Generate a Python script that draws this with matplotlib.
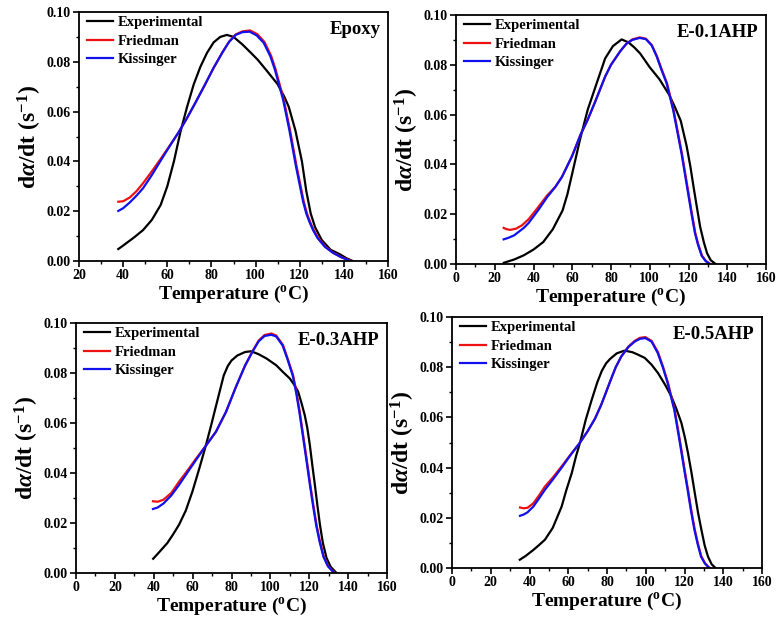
import matplotlib
matplotlib.use('Agg')
import matplotlib.pyplot as plt
from matplotlib.ticker import MultipleLocator, FormatStrFormatter

plt.rcParams['font.family'] = ['Liberation Serif', 'DejaVu Serif']
plt.rcParams['font.weight'] = 'bold'
plt.rcParams['mathtext.fontset'] = 'custom'
plt.rcParams['mathtext.rm'] = 'Liberation Serif:bold'
plt.rcParams['mathtext.it'] = 'Liberation Serif:italic:bold'
plt.rcParams['mathtext.bf'] = 'Liberation Serif:bold'

# ---------------- data ----------------
series_names = ['Experimental', 'Friedman', 'Kissinger']
panel_labels = ['Epoxy', 'E-0.1AHP', 'E-0.3AHP', 'E-0.5AHP']

# Epoxy
ep_exp_T = [37.8, 40, 45, 49, 53, 57, 60, 63, 66, 69, 72, 75, 78, 81, 84, 87, 90, 94, 98, 101, 105, 110, 113, 115, 118, 121, 123, 125, 127, 130, 134, 138, 141, 144]
ep_exp = [0.0048, 0.0062, 0.0095, 0.0124, 0.0165, 0.0225, 0.0300, 0.0400, 0.0520, 0.0620, 0.0710, 0.0780, 0.0836, 0.0878, 0.0900, 0.0908, 0.0900, 0.0870, 0.0835, 0.0808, 0.0765, 0.0710, 0.0660, 0.0620, 0.0526, 0.0400, 0.0280, 0.0190, 0.0135, 0.0084, 0.0045, 0.0028, 0.0012, 0.0]
ep_fri_T = [37.8, 40, 43, 46, 49, 53, 57, 61, 65, 69, 73, 77, 81, 85, 88, 91, 94, 97.5, 100.8, 104, 107, 109, 111, 112.8, 115.6, 118.6, 120.2, 121.8, 123.3, 124.8, 126.3, 128.3, 131.7, 135.2, 139, 143.5]
ep_fri = [0.0238, 0.0240, 0.0255, 0.0280, 0.0312, 0.0360, 0.0410, 0.0462, 0.0515, 0.0575, 0.0640, 0.0707, 0.0776, 0.0838, 0.0881, 0.0910, 0.0922, 0.0926, 0.0911, 0.0880, 0.0825, 0.0772, 0.0706, 0.0647, 0.0526, 0.0380, 0.0310, 0.0240, 0.0190, 0.0155, 0.0125, 0.0093, 0.0057, 0.0033, 0.0015, 0.0]
ep_kis_T = [37.8, 40, 43, 46, 49, 53, 57, 61, 65, 69, 73, 77, 81, 85, 88, 91, 94, 97.3, 100.5, 103.7, 106.7, 108.7, 110.7, 112.5, 115.3, 118.3, 119.9, 121.5, 123.0, 124.5, 126.0, 128.0, 131.4, 135.0, 138.8, 143.0]
ep_kis = [0.0201, 0.0212, 0.0235, 0.0262, 0.0292, 0.0345, 0.0403, 0.0460, 0.0515, 0.0575, 0.0640, 0.0707, 0.0776, 0.0838, 0.0880, 0.0908, 0.0919, 0.0921, 0.0906, 0.0876, 0.0822, 0.0770, 0.0705, 0.0647, 0.0526, 0.0380, 0.0310, 0.0240, 0.0190, 0.0155, 0.0125, 0.0093, 0.0057, 0.0033, 0.0015, 0.0]

# E-0.1AHP
a1_exp_T = [24.7, 30, 35, 40, 45, 50, 55, 57.5, 60, 64, 68, 72, 77, 81, 85.5, 89, 92, 95, 100, 105, 110, 113, 116, 119, 121, 122.6, 124.5, 126, 128, 129.6, 131.5, 134]
a1_exp = [0.0005, 0.0018, 0.0035, 0.0058, 0.0088, 0.0140, 0.0215, 0.0280, 0.0364, 0.0500, 0.0620, 0.0712, 0.0826, 0.0875, 0.0902, 0.0890, 0.0870, 0.0846, 0.0790, 0.0742, 0.0680, 0.0630, 0.0575, 0.0475, 0.0390, 0.0310, 0.0220, 0.0150, 0.0085, 0.0043, 0.0015, 0.0]
a1_fri_T = [24.6, 26, 28, 31, 34, 37.5, 42.6, 47, 51.3, 54.7, 60, 64.2, 68, 72, 77, 80, 84.8, 88, 91, 94.8, 98, 101, 103.7, 106, 108.9, 112.3, 116.6, 120, 121.8, 123.5, 125, 127, 129, 131.2]
a1_fri = [0.0145, 0.0140, 0.0137, 0.0142, 0.0155, 0.0180, 0.0230, 0.0275, 0.0310, 0.0350, 0.0435, 0.0518, 0.0580, 0.0655, 0.0753, 0.0800, 0.0855, 0.0885, 0.0902, 0.0910, 0.0905, 0.0880, 0.0835, 0.0785, 0.0726, 0.0618, 0.0444, 0.0284, 0.0200, 0.0125, 0.0080, 0.0033, 0.0012, 0.0]
a1_kis_T = [24.6, 27, 30, 35, 37.5, 42.6, 47, 51.3, 54.7, 60, 64.2, 68, 72, 77, 80, 84.8, 88, 91, 94.8, 98, 101, 103.6, 105.8, 108.7, 112.1, 116.4, 119.8, 121.6, 123.3, 124.8, 126.8, 128.8, 131.0]
a1_kis = [0.0099, 0.0105, 0.0115, 0.0145, 0.0165, 0.0218, 0.0268, 0.0310, 0.0350, 0.0435, 0.0518, 0.0580, 0.0655, 0.0753, 0.0800, 0.0855, 0.0885, 0.0900, 0.0908, 0.0903, 0.0878, 0.0833, 0.0785, 0.0726, 0.0618, 0.0444, 0.0284, 0.0200, 0.0125, 0.0080, 0.0033, 0.0012, 0.0]

# E-0.3AHP
a3_exp_T = [39.7, 43, 47, 50, 53, 56.5, 59.9, 63.5, 66.8, 69.5, 72.9, 76, 78.1, 80, 83, 87, 90.1, 94, 98, 103, 107, 110, 112.5, 114.3, 116, 117.7, 119, 120.3, 121.6, 122.9, 124.2, 125.5, 127, 128.9, 131, 134]
a3_exp = [0.0057, 0.0085, 0.0120, 0.0155, 0.0193, 0.0250, 0.0326, 0.0420, 0.0510, 0.0590, 0.0695, 0.0790, 0.0828, 0.0850, 0.0870, 0.0884, 0.0887, 0.0875, 0.0858, 0.0831, 0.0800, 0.0778, 0.0750, 0.0725, 0.0680, 0.0631, 0.0580, 0.0512, 0.0430, 0.0352, 0.0270, 0.0193, 0.0120, 0.0060, 0.0025, 0.0]
a3_fri_T = [39.6, 42, 45, 49, 53, 58.2, 62, 66.8, 72, 77.2, 82.3, 87, 91, 94, 97, 100.5, 103, 106.5, 109, 111.7, 113.5, 115.1, 116.8, 118.6, 120.4, 122.1, 123.8, 125.5, 127.5, 129.8, 133]
a3_fri = [0.0287, 0.0285, 0.0293, 0.0320, 0.0365, 0.0419, 0.0460, 0.0509, 0.0565, 0.0645, 0.0745, 0.0830, 0.0890, 0.0930, 0.0952, 0.0958, 0.0950, 0.0912, 0.0855, 0.0790, 0.0720, 0.0645, 0.0555, 0.0459, 0.0360, 0.0272, 0.0190, 0.0126, 0.0065, 0.0027, 0.0]
a3_kis_T = [39.6, 42, 45, 49, 53, 58.2, 62, 66.8, 72, 77.2, 82.3, 87, 91, 94, 97, 100.5, 103, 106.3, 108.8, 111.5, 113.3, 114.9, 116.6, 118.4, 120.2, 121.9, 123.6, 125.3, 127.3, 129.6, 132.8]
a3_kis = [0.0256, 0.0262, 0.0278, 0.0310, 0.0352, 0.0412, 0.0455, 0.0509, 0.0565, 0.0645, 0.0745, 0.0830, 0.0888, 0.0927, 0.0948, 0.0953, 0.0946, 0.0910, 0.0855, 0.0790, 0.0720, 0.0645, 0.0555, 0.0459, 0.0360, 0.0272, 0.0190, 0.0126, 0.0065, 0.0027, 0.0]

# E-0.5AHP
a5_exp_T = [35, 38, 42, 45, 48, 52, 56.6, 59, 61.8, 64, 66.1, 69, 72.1, 75, 77.3, 79.5, 81.6, 85, 89, 93, 96, 99.5, 103, 106.3, 110, 113.2, 116, 118.4, 120.2, 121.8, 123.6, 125.3, 127, 128.7, 130.4, 132.1, 134, 136]
a5_exp = [0.0033, 0.0048, 0.0072, 0.0092, 0.0113, 0.0160, 0.0245, 0.0310, 0.0378, 0.0445, 0.0500, 0.0590, 0.0670, 0.0740, 0.0785, 0.0815, 0.0833, 0.0855, 0.0866, 0.0860, 0.0850, 0.0837, 0.0810, 0.0777, 0.0730, 0.0684, 0.0630, 0.0578, 0.0520, 0.0458, 0.0380, 0.0299, 0.0220, 0.0153, 0.0090, 0.0046, 0.0015, 0.0]
a5_fri_T = [35.1, 37, 39, 42, 45, 48, 52, 56.6, 61, 66.1, 70, 73.8, 77, 79, 81.6, 84.5, 87.4, 91, 94.3, 97, 99.8, 103, 106.3, 109, 111.5, 113.3, 114.9, 116.7, 118.4, 120.1, 121.8, 123.5, 125.3, 127, 128.7, 130.7, 133]
a5_fri = [0.0241, 0.0238, 0.0240, 0.0258, 0.0290, 0.0325, 0.0360, 0.0405, 0.0450, 0.0500, 0.0545, 0.0595, 0.0650, 0.0690, 0.0743, 0.0800, 0.0843, 0.0882, 0.0905, 0.0917, 0.0920, 0.0905, 0.0860, 0.0800, 0.0737, 0.0680, 0.0631, 0.0550, 0.0471, 0.0390, 0.0312, 0.0230, 0.0153, 0.0095, 0.0046, 0.0018, 0.0]
a5_kis_T = [35.1, 37, 39, 42, 45, 48, 52, 56.6, 61, 66.1, 70, 73.8, 77, 79, 81.6, 84.5, 87.4, 91, 94.3, 97, 99.8, 103, 106.1, 108.8, 111.3, 113.1, 114.7, 116.5, 118.2, 119.9, 121.6, 123.3, 125.1, 126.8, 128.5, 130.5, 132.8]
a5_kis = [0.0208, 0.0213, 0.0222, 0.0245, 0.0278, 0.0312, 0.0352, 0.0400, 0.0448, 0.0500, 0.0545, 0.0595, 0.0650, 0.0690, 0.0743, 0.0800, 0.0843, 0.0880, 0.0902, 0.0913, 0.0916, 0.0902, 0.0858, 0.0800, 0.0737, 0.0680, 0.0631, 0.0550, 0.0471, 0.0390, 0.0312, 0.0230, 0.0153, 0.0095, 0.0046, 0.0018, 0.0]

panels = [
    dict(label=panel_labels[0], xmin=20, box=(79, 12, 388, 261),
         data=[(ep_exp_T, ep_exp), (ep_fri_T, ep_fri), (ep_kis_T, ep_kis)]),
    dict(label=panel_labels[1], xmin=0, box=(456, 15, 766, 264),
         data=[(a1_exp_T, a1_exp), (a1_fri_T, a1_fri), (a1_kis_T, a1_kis)]),
    dict(label=panel_labels[2], xmin=0, box=(76, 323, 387, 573),
         data=[(a3_exp_T, a3_exp), (a3_fri_T, a3_fri), (a3_kis_T, a3_kis)]),
    dict(label=panel_labels[3], xmin=0, box=(452, 317, 762, 568),
         data=[(a5_exp_T, a5_exp), (a5_fri_T, a5_fri), (a5_kis_T, a5_kis)]),
]

colors = ['#000000', '#ee1111', '#1111ee']

W, H = 781, 624
fig = plt.figure(figsize=(W / 100, H / 100), dpi=100)

for p in panels:
    l, t, r, b = p['box']
    ax = fig.add_axes([l / W, 1 - b / H, (r - l) / W, (b - t) / H])
    for (xs, ys), c, name in zip(p['data'], colors, series_names):
        ax.plot(xs, ys, color=c, lw=1.6, label=name, solid_joinstyle='round')
    ax.set_xlim(p['xmin'], 160)
    ax.set_ylim(0, 0.10)
    ax.xaxis.set_major_locator(MultipleLocator(20))
    ax.xaxis.set_minor_locator(MultipleLocator(10))
    ax.yaxis.set_major_locator(MultipleLocator(0.02))
    ax.yaxis.set_minor_locator(MultipleLocator(0.01))
    ax.yaxis.set_major_formatter(FormatStrFormatter('%.2f'))
    ax.tick_params(which='major', direction='out', length=4, width=1.2,
                   labelsize=10, pad=2, top=False, right=False)
    ax.tick_params(which='minor', direction='out', length=2.5, width=1.0,
                   top=False, right=False)
    for lab in ax.get_xticklabels() + ax.get_yticklabels():
        lab.set_fontweight('bold')
    for s in ax.spines.values():
        s.set_linewidth(1.3)
    ax.set_xlabel(r'Temperature ($^{\mathrm{o}}$C)', fontsize=14,
                  fontweight='bold', labelpad=1)
    ax.set_ylabel(r'd$\alpha$/dt (s$^{-1}$)', fontsize=17,
                  fontweight='bold', labelpad=2)
    leg = ax.legend(loc='upper left', bbox_to_anchor=(0.025, 0.985),
                    frameon=False, fontsize=10.5, handlelength=1.8,
                    handletextpad=0.3, labelspacing=0.38, borderpad=0,
                    borderaxespad=0)
    for txt in leg.get_texts():
        txt.set_fontweight('bold')
    ax.text(0.975, 0.93, p['label'], transform=ax.transAxes, ha='right',
            va='center', fontsize=13.5, fontweight='bold')

fig.savefig('out.png', dpi=100)
